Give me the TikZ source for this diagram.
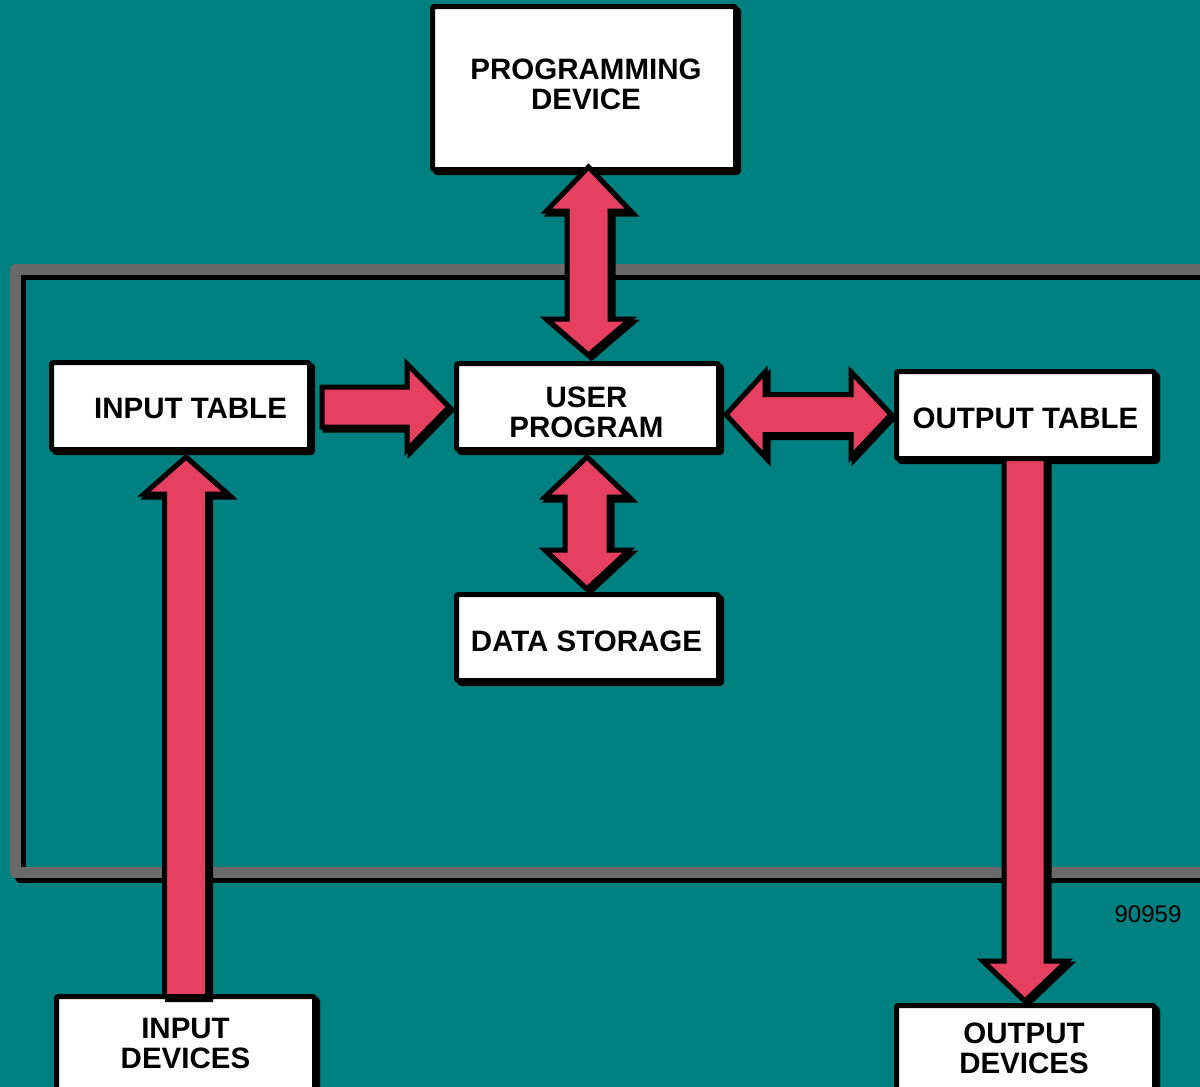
\documentclass[tikz,border=0pt]{standalone}
\usepackage{fontspec}
\setmainfont{Liberation Sans}
\usetikzlibrary{calc}
\definecolor{bgteal}{HTML}{008080}
\definecolor{arrred}{HTML}{E5405F}
\definecolor{framegrey}{HTML}{6A6A6A}
% vertical double arrow: #1 top tip, #2 bottom tip, #3 head half width, #4 shaft half width, #5 top head length, #6 bottom head length
\newcommand\fatvdouble[6]{%
  \draw[fat] (#1) -- ++(-#3,#5) -- ++({#3-#4},0) -- ($(#1 |- #2)+(-#4,-#6)$) -- ++({#4-#3},0)
    -- (#1 |- #2) -- ++(#3,-#6) -- ++({#4-#3},0) -- ($(#1)+(#4,#5)$) -- ++({#3-#4},0) -- cycle;}
\begin{document}
\begin{tikzpicture}[x=1pt,y=-1pt,
  shadowed/.style={preaction={draw=black, fill=black, line width=5pt, transform canvas={shift={(3pt,-3pt)}}}},
  box/.style={shadowed, draw=black, fill=white, line width=5pt, rounded corners=2pt, inner sep=0pt},
  boxtext/.style={inner sep=0pt, align=center, font=\fontsize{29.5}{30}\selectfont\bfseries},
  fat/.style={shadowed, draw=black, fill=arrred, line width=5pt, line join=miter},
  framestroke/.style={line width=11pt, line join=round}]
\useasboundingbox (0,0) rectangle (1200,1087);
\clip (0,0) rectangle (1200,1087);
\fill[bgteal] (0,0) rectangle (1200,1087);
% frame
\draw[framestroke, black] (1215,877) -- (20,877) -- (20,274.5) -- (1215,274.5);
\draw[framestroke, framegrey] (1215,872) -- (15,872) -- (15,269.5) -- (1215,269.5);
% boxes
\node[box, minimum width=303pt, minimum height=163pt,
  label={[boxtext, xshift=2pt, yshift=4pt]center:PROGRAMMING\\DEVICE}] (prog) at (584,88) {};
\node[box, minimum width=258pt, minimum height=87pt,
  label={[boxtext, xshift=10pt, yshift=-2.5pt]center:INPUT TABLE}] (intab) at (180.5,406) {};
\node[box, minimum width=262pt, minimum height=86pt,
  label={[boxtext, xshift=-1pt, yshift=-6pt]center:USER\\PROGRAM}] (user) at (587.5,406.5) {};
\node[box, minimum width=258pt, minimum height=87pt,
  label={[boxtext, yshift=-3pt]center:OUTPUT TABLE}] (outtab) at (1025.5,415) {};
\node[box, minimum width=262pt, minimum height=86pt,
  label={[boxtext, xshift=-1pt, yshift=-3.5pt]center:DATA STORAGE}] (data) at (587.5,637.5) {};
\node[box, minimum width=258pt, minimum height=93.5pt,
  label={[boxtext]center:INPUT\\DEVICES}] (indev) at (185.5,1043.25) {};
\node[box, minimum width=258pt, minimum height=84.5pt,
  label={[boxtext, xshift=-1.5pt, yshift=-1pt]center:OUTPUT\\DEVICES}] (outdev) at (1025.5,1047.75) {};
\node[font=\fontsize{24}{24}\selectfont, inner sep=0pt] (fignum) at (1148,914) {90959};
% arrows
\coordinate (a1t) at ($(prog.south)+(4.5,-5)$);
\coordinate (a1b) at ($(a1t |- user.north)+(0,-6)$);
\fatvdouble{a1t}{a1b}{42}{21.5}{44}{36}
\coordinate (a4t) at ($(user.south)+(-0.5,5)$);
\coordinate (a4b) at ($(a4t |- data.north)+(0,-3)$);
\fatvdouble{a4t}{a4b}{42}{22}{40}{39}
% input table -> user program
\coordinate (a2tip) at ($(user.west)+(-5,0.5)$);
\coordinate (a2tail) at ($(intab.east |- a2tip)+(10,0)$);
\draw[fat] ($(a2tail)+(0,-20)$) -- ($(a2tip)+(-42,-20)$) -- ++(0,-23) -- (a2tip) -- ++(-42,43)
  -- ++(0,-23) -- ($(a2tail)+(0,20)$) -- cycle;
% user program <-> output table
\coordinate (a3l) at ($(user.east)+(5,8)$);
\coordinate (a3r) at ($(a3l -| outtab.west)+(-3,0)$);
\draw[fat] (a3l) -- ++(39,-42.5) -- ++(0,22.5) -- ($(a3r)+(-40,-20)$) -- ++(0,-22.5) -- (a3r)
  -- ++(-40,42.5) -- ++(0,-22.5) -- ($(a3l)+(39,20)$) -- ++(0,22.5) -- cycle;
% input devices -> input table
\coordinate (a5tip) at ($(intab.south)+(5.5,5)$);
\draw[fat] (a5tip) -- ++(-42,37) -- ++(20.5,0) -- ($(a5tip |- indev.north)+(-21.5,2.5)$) -- ++(43,0)
  -- ($(a5tip)+(21.5,37)$) -- ++(20.5,0) -- cycle;
% output table -> output devices
\coordinate (a6tip) at ($(outdev.north)+(-0.5,-2)$);
\draw[fat] ($(a6tip |- outtab.south)+(-21,-2.5)$) -- ($(a6tip)+(-21,-40)$) -- ++(-21,0) -- (a6tip)
  -- ++(42,-40) -- ++(-21,0) -- ($(a6tip |- outtab.south)+(21,-2.5)$) -- cycle;
\end{tikzpicture}
\end{document}
